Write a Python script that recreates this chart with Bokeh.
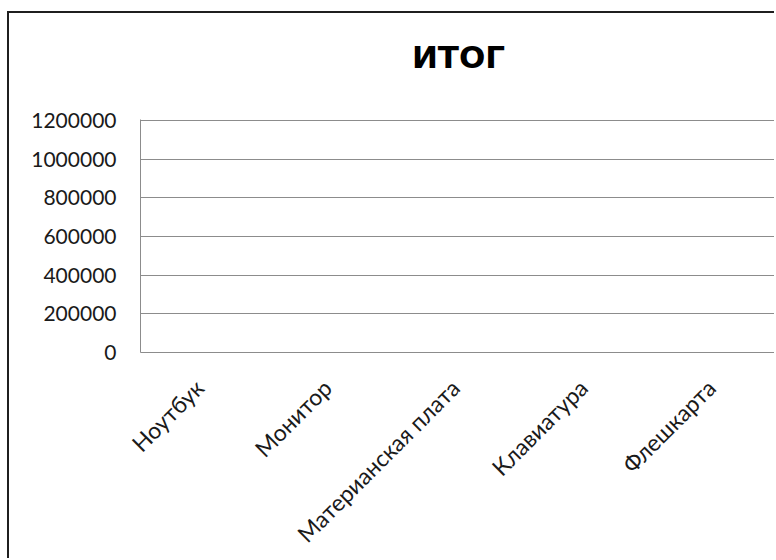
import math
from bokeh.plotting import figure
from bokeh.models import Range1d, FixedTicker, BasicTickFormatter, ColumnDataSource, LinearAxis
from bokeh.embed import file_html
from bokeh.resources import INLINE

title_text = "ИТОГ"
categories = ["Ноутбук", "Монитор", "Материанская плата", "Клавиатура", "Флешкарта"]
totals = [0, 0, 0, 0, 0]
y_ticks = [0, 200000, 400000, 600000, 800000, 1000000, 1200000]

x_pos = [i + 0.5 for i in range(len(categories))]
src = ColumnDataSource(dict(x=x_pos, top=totals, cat=categories))

p = figure(
    width=767, height=547,
    x_range=Range1d(0.04, 5.01), y_range=Range1d(0, max(y_ticks) * 1.004),
    output_backend="svg", toolbar_location=None,
    min_border_left=131, min_border_right=0, min_border_top=106, min_border_bottom=208,
)
p.margin = (11, 0, 0, 7)
p.styles = {"border-left": "2px solid #1f1f1f", "border-top": "2px solid #1f1f1f"}

p.vbar(x="x", top="top", bottom=0, width=0.6, source=src, fill_color="#4F81BD", line_color=None)

# chart title drawn as the label of a bare axis above the plot area
title_axis = LinearAxis(
    ticker=FixedTicker(ticks=[]),
    axis_label=title_text,
    axis_label_text_font="DejaVu Sans", axis_label_text_font_style="bold",
    axis_label_text_font_size="31px", axis_label_text_color="#000000",
    axis_label_standoff=45,
    axis_line_color=None, major_tick_in=0, major_tick_out=0,
    minor_tick_in=0, minor_tick_out=0, major_label_text_font_size="0px",
)
p.add_layout(title_axis, "above")

p.outline_line_color = None
p.background_fill_color = "white"
p.border_fill_color = "white"
p.xgrid.visible = False
p.ygrid.grid_line_color = "#8c8c8c"
p.ygrid.grid_line_width = 1

grey = "#8c8c8c"
p.yaxis.ticker = FixedTicker(ticks=y_ticks)
p.yaxis.formatter = BasicTickFormatter(use_scientific=False)
p.yaxis.major_label_text_font = "Lato"
p.yaxis.major_label_text_font_size = "21px"
p.yaxis.major_label_text_color = "#1a1a1a"
p.yaxis.major_label_standoff = 24
p.yaxis.axis_line_color = grey
p.yaxis.major_tick_in = 0
p.yaxis.major_tick_out = 0
p.yaxis.minor_tick_in = 0
p.yaxis.minor_tick_out = 0

xaxis = p.below[0]
xaxis.ticker = FixedTicker(ticks=x_pos)
xaxis.major_label_overrides = {x: c for x, c in zip(x_pos, categories)}
xaxis.major_label_orientation = math.pi / 4
xaxis.major_label_text_font = "Lato"
xaxis.major_label_text_font_size = "23px"
xaxis.major_label_text_color = "#1a1a1a"
xaxis.major_label_standoff = 31
xaxis.axis_line_color = grey
xaxis.major_tick_in = 0
xaxis.major_tick_out = 0
xaxis.minor_tick_in = 0
xaxis.minor_tick_out = 0

open("out.html", "w").write(file_html(p, INLINE))
